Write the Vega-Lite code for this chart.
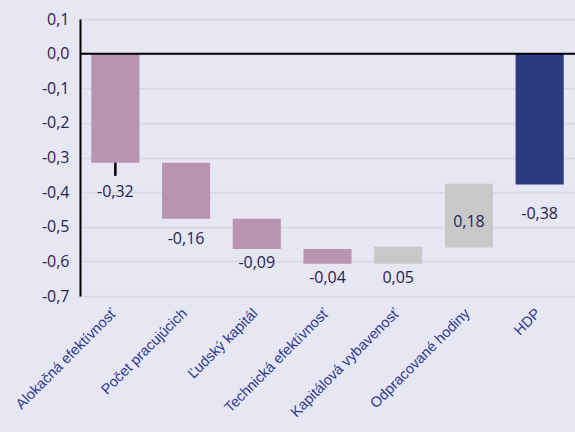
{
  "$schema": "https://vega.github.io/schema/vega-lite/v6.json",
  "width": 495,
  "height": 277,
  "autosize": {"type": "none"},
  "padding": {"left": 80, "top": 19, "right": 0, "bottom": 136},
  "background": "#e7e6f3",
  "config": {
    "view": {"stroke": null},
    "locale": {"number": {"decimal": ",", "thousands": " ", "grouping": [3], "currency": ["", " €"], "minus": "-"}}
  },
  "datasets": {
    "bars": [
      {"cat": "Alokačná efektívnosť", "start": 0, "end": -0.315, "change": -0.32, "kind": "neg", "grp": "a"},
      {"cat": "Počet pracujúcich", "start": -0.315, "end": -0.477, "change": -0.16, "kind": "neg", "grp": "b"},
      {"cat": "Ľudský kapitál", "start": -0.477, "end": -0.564, "change": -0.09, "kind": "neg", "grp": "c"},
      {"cat": "Technická efektívnosť", "start": -0.564, "end": -0.607, "change": -0.04, "kind": "neg", "grp": "c"},
      {"cat": "Kapitálová vybavenosť", "start": -0.607, "end": -0.558, "change": 0.05, "kind": "pos", "grp": "e"},
      {"cat": "Odpracované hodiny", "start": -0.56, "end": -0.376, "change": 0.18, "kind": "pos", "grp": "d"},
      {"cat": "HDP", "start": 0, "end": -0.378, "change": -0.38, "kind": "total", "grp": "a"}
    ],
    "tick": [
      {"cat": "Alokačná efektívnosť", "from": -0.315, "to": -0.353}
    ],
    "zero": [{"v": 0}]
  },
  "layer": [
    {
      "data": {"name": "bars"},
      "mark": {"type": "bar"},
      "encoding": {
        "x": {
          "field": "cat", "type": "nominal", "sort": null,
          "scale": {"paddingInner": 0.32, "paddingOuter": 0.16},
          "axis": {
            "title": null, "domain": false, "ticks": false, "labelAngle": -45,
            "labelFont": "Liberation Sans", "labelFontSize": 14.5, "labelColor": "#2b3990",
            "labelPadding": 10, "labelOffset": -6, "labelLimit": 300
          }
        },
        "y": {
          "field": "start", "type": "quantitative",
          "scale": {"domain": [-0.7, 0.1], "nice": false, "zero": false},
          "axis": {
            "title": null, "values": [-0.7, -0.6, -0.5, -0.4, -0.3, -0.2, -0.1, 0, 0.1],
            "tickCount": 20,
            "labelExpr": "replace(replace(format(datum.value, '.1f'), '.', ','), '\u2212', '-')",
            "labelOverlap": false,
            "grid": true, "gridColor": "#d8d8e0", "gridWidth": 1.5,
            "ticks": false, "domain": true, "domainColor": "#000000", "domainWidth": 2,
            "labelFont": "Open Sans", "labelFontSize": 16, "labelColor": "#1f2452", "labelPadding": 11
          }
        },
        "y2": {"field": "end"},
        "color": {
          "field": "kind", "type": "nominal", "legend": null,
          "scale": {"domain": ["neg", "pos", "total"], "range": ["#b894b2", "#c8c8c8", "#2a3a80"]}
        }
      }
    },
    {
      "data": {"name": "zero"},
      "mark": {"type": "rule", "color": "#000000", "strokeWidth": 2},
      "encoding": {"y": {"field": "v", "type": "quantitative"}}
    },
    {
      "data": {"name": "tick"},
      "mark": {"type": "rule", "color": "#000000", "strokeWidth": 2.5},
      "encoding": {
        "x": {"field": "cat", "type": "nominal", "sort": null},
        "y": {"field": "from", "type": "quantitative"},
        "y2": {"field": "to"}
      }
    },
    {
      "data": {"name": "bars"},
      "transform": [{"filter": "datum.grp == 'a'"}],
      "mark": {"type": "text", "font": "Open Sans", "fontSize": 16, "color": "#1f2452", "baseline": "middle", "dy": 29},
      "encoding": {
        "x": {"field": "cat", "type": "nominal", "sort": null},
        "y": {"field": "end", "type": "quantitative"},
        "text": {"field": "change", "type": "quantitative", "format": ".2f"}
      }
    },
    {
      "data": {"name": "bars"},
      "transform": [{"filter": "datum.grp == 'b'"}],
      "mark": {"type": "text", "font": "Open Sans", "fontSize": 16, "color": "#1f2452", "baseline": "middle", "dy": 20},
      "encoding": {
        "x": {"field": "cat", "type": "nominal", "sort": null},
        "y": {"field": "end", "type": "quantitative"},
        "text": {"field": "change", "type": "quantitative", "format": ".2f"}
      }
    },
    {
      "data": {"name": "bars"},
      "transform": [{"filter": "datum.grp == 'c'"}],
      "mark": {"type": "text", "font": "Open Sans", "fontSize": 16, "color": "#1f2452", "baseline": "middle", "dy": 14},
      "encoding": {
        "x": {"field": "cat", "type": "nominal", "sort": null},
        "y": {"field": "end", "type": "quantitative"},
        "text": {"field": "change", "type": "quantitative", "format": ".2f"}
      }
    },
    {
      "data": {"name": "bars"},
      "transform": [{"filter": "datum.grp == 'e'"}],
      "mark": {"type": "text", "font": "Open Sans", "fontSize": 16, "color": "#1f2452", "baseline": "middle", "dy": 14},
      "encoding": {
        "x": {"field": "cat", "type": "nominal", "sort": null},
        "y": {"field": "start", "type": "quantitative"},
        "text": {"field": "change", "type": "quantitative", "format": ".2f"}
      }
    },
    {
      "data": {"name": "bars"},
      "transform": [{"filter": "datum.grp == 'd'"}],
      "mark": {"type": "text", "font": "Open Sans", "fontSize": 16, "color": "#1f2452", "baseline": "middle", "dy": 38},
      "encoding": {
        "x": {"field": "cat", "type": "nominal", "sort": null},
        "y": {"field": "end", "type": "quantitative"},
        "text": {"field": "change", "type": "quantitative", "format": ".2f"}
      }
    }
  ]
}
